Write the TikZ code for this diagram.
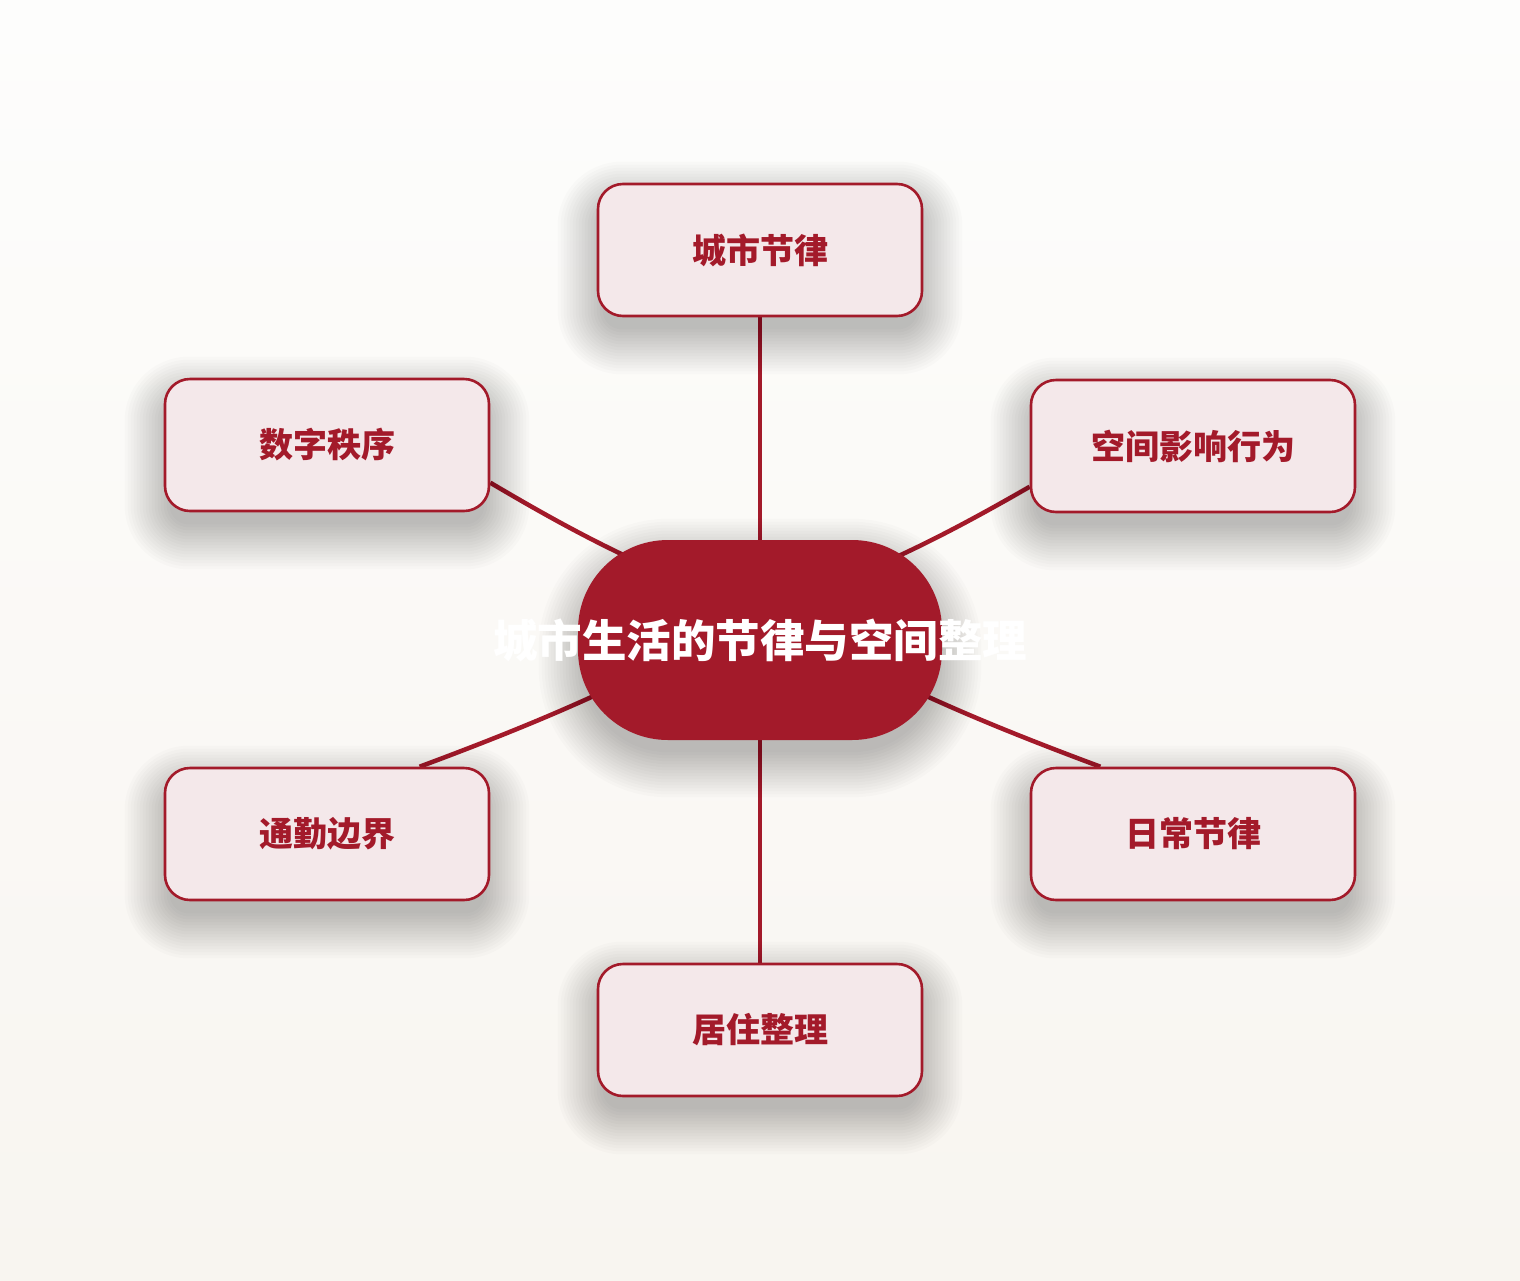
\documentclass[tikz,border=0pt]{standalone}
\usepackage{fontspec}
\newfontfamily\cjk{Noto Sans CJK SC}[BoldFont={Noto Sans CJK SC Black}]
\usetikzlibrary{calc}
\definecolor{accent}{HTML}{A31A2A}
\definecolor{boxfill}{HTML}{F4E8EA}
\definecolor{bgtop}{HTML}{FDFDFC}
\definecolor{bgbot}{HTML}{F8F5F0}
\pgfdeclarelayer{bglayer}
\pgfdeclarelayer{edgelayer}
\pgfdeclarelayer{shadowlayer}
\pgfsetlayers{bglayer,edgelayer,shadowlayer,main}
\begin{document}
\begin{tikzpicture}[x=1pt,y=-1pt,
  leaf/.style={draw=accent, line width=2.6pt, fill=boxfill, rounded corners=25pt,
    minimum width=324pt, minimum height=132pt, inner sep=0pt,
    font=\cjk\bfseries\fontsize{34pt}{40pt}\selectfont, text=accent},
  hubnode/.style={fill=accent, rounded corners=90pt, minimum width=364pt, minimum height=200pt, inner sep=0pt},
  hubtext/.style={font=\cjk\bfseries\fontsize{44.5pt}{52pt}\selectfont, text=white},
  link/.style={draw=accent, line width=4.5pt},
  shadowpiece/.style={fill=black, opacity=0.014}]
\begin{pgfonlayer}{bglayer}
\fill[top color=bgtop, bottom color=bgbot] (0,0) rectangle (1520,1280);
\end{pgfonlayer}
\useasboundingbox (0,0) rectangle (1520,1280);

\node[hubnode] (c) at (760,640) {};
\node[hubtext] (ct) at (760,640) {城市生活的节律与空间整理};
\coordinate (hub) at (760,612);

\node[leaf] (t) at (760,250) {城市节律};
\node[leaf] (dz) at (327,445) {数字秩序};
\node[leaf] (kj) at (1193,446) {空间影响行为};
\node[leaf] (tq) at (327,834) {通勤边界};
\node[leaf] (rc) at (1193,834) {日常节律};
\node[leaf] (jz) at (760,1030) {居住整理};

\begin{pgfonlayer}{shadowlayer}
\foreach \n in {t,dz,kj,tq,rc,jz}{
  \foreach \e in {-6,-3,...,39}{
    \fill[shadowpiece, rounded corners={25pt+\e pt}]
      ($(\n.south west)+(-\e,\e+18)$) rectangle ($(\n.north east)+(\e,-\e+18)$);
  }
}
\foreach \e in {-6,-3,...,39}{
  \fill[shadowpiece, rounded corners={90pt+\e pt}]
    ($(c.south west)+(-\e,\e+18)$) rectangle ($(c.north east)+(\e,-\e+18)$);
}
\end{pgfonlayer}

\begin{pgfonlayer}{edgelayer}
\draw[link] (c.center) -- (t.south);
\draw[link] (c.center) -- (jz.north);
\draw[link] (hub) to[bend left=5] (dz.-13);
\draw[link] (hub) to[bend right=5] (kj.194);
\draw[link] (hub) to[bend left=4] (tq.36);
\draw[link] (hub) to[bend right=4] (rc.144);
\end{pgfonlayer}
\end{tikzpicture}
\end{document}
